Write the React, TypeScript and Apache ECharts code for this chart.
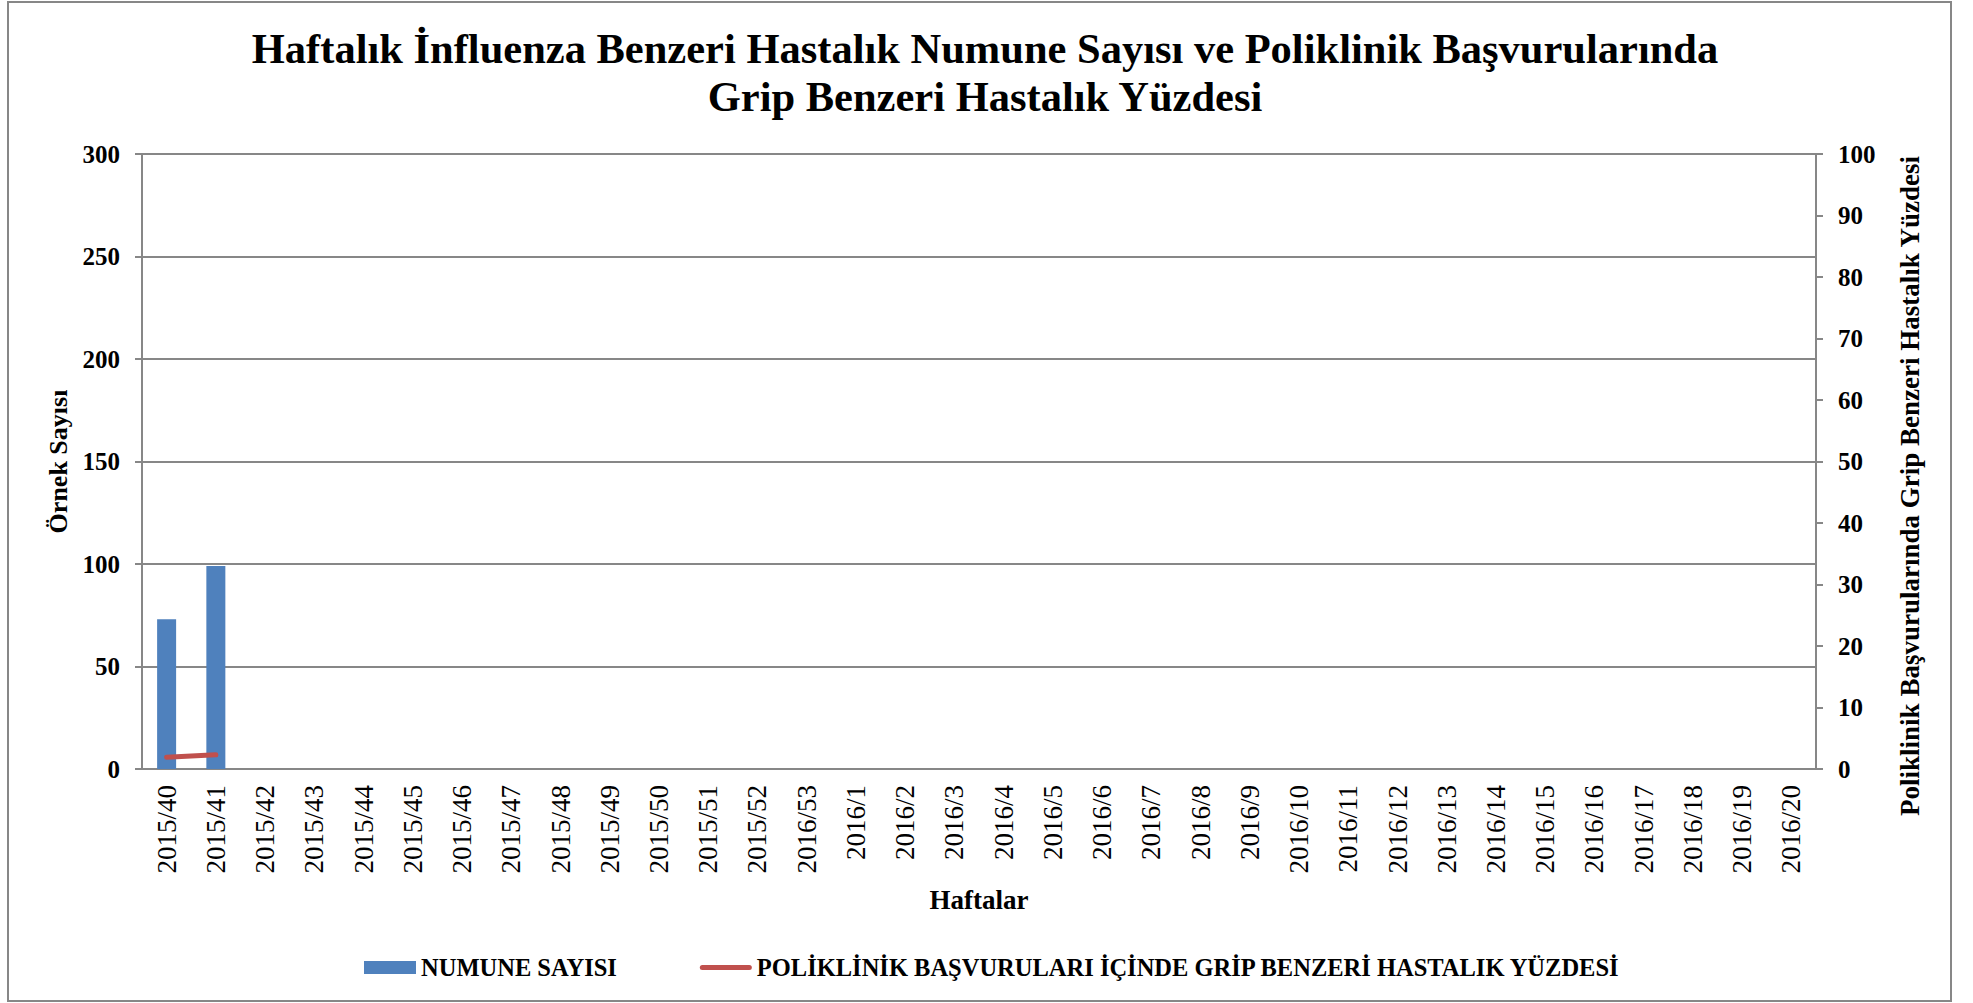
import React, { useEffect, useRef } from "react";
import * as echarts from "echarts";

const categories = [
  "2015/40", "2015/41", "2015/42", "2015/43", "2015/44", "2015/45", "2015/46", "2015/47",
  "2015/48", "2015/49", "2015/50", "2015/51", "2015/52", "2016/53", "2016/1", "2016/2",
  "2016/3", "2016/4", "2016/5", "2016/6", "2016/7", "2016/8", "2016/9", "2016/10",
  "2016/11", "2016/12", "2016/13", "2016/14", "2016/15", "2016/16", "2016/17", "2016/18",
  "2016/19", "2016/20",
];
const numuneSayisi: (number | null)[] = [73, 99];
const gripYuzdesi: (number | null)[] = [1.9, 2.3];

const titleLines = [
  "Haftalık İnfluenza Benzeri Hastalık Numune Sayısı ve Poliklinik Başvurularında",
  "Grip Benzeri Hastalık Yüzdesi",
];
const barName = "NUMUNE SAYISI";
const lineName = "POLİKLİNİK BAŞVURULARI İÇİNDE GRİP BENZERİ HASTALIK YÜZDESİ";
const leftAxisName = "Örnek Sayısı";
const rightAxisName = "Poliklinik Başvurularında Grip Benzeri Hastalık Yüzdesi";

const FONT = "'Liberation Serif', 'Times New Roman', serif";
const GRAY = "#878787";

export default function App() {
  const ref = useRef<HTMLDivElement>(null);
  useEffect(() => {
    document.body.style.margin = "0";
    const chart = echarts.init(ref.current!, null, { renderer: "svg" });
    const pad = (arr: (number | null)[]) =>
      categories.map((_, i) => (i < arr.length ? arr[i] : null));
    chart.setOption({
      animation: false,
      backgroundColor: "#ffffff",
      title: {
        text: titleLines.join("\n"),
        left: 980,
        textAlign: "center",
        top: 19,
        textStyle: {
          fontFamily: FONT,
          fontWeight: "bold",
          fontSize: 42.5,
          lineHeight: 48,
          color: "#000",
        },
      },
      graphic: [
        {
          type: "rect",
          shape: { x: 8, y: 2, width: 1943, height: 999 },
          style: { fill: "none", stroke: GRAY, lineWidth: 2 },
          silent: true,
        },
        {
          type: "text",
          x: 1910,
          y: 486,
          rotation: Math.PI / 2,
          style: {
            text: rightAxisName,
            align: "center",
            verticalAlign: "middle",
            fontFamily: FONT,
            fontWeight: "bold",
            fontSize: 27,
            fill: "#000",
          },
          silent: true,
        },
      ],
      grid: { left: 142, right: 157, top: 154, bottom: 234, containLabel: false },
      legend: {
        left: 359,
        top: 950,
        itemWidth: 52,
        itemHeight: 13,
        itemGap: 83,
        data: [
          { name: barName, icon: "rect" },
          {
            name: lineName,
            icon: "path://M2.5,0 H49.5 A2.5,2.5 0 0 1 49.5,5 H2.5 A2.5,2.5 0 0 1 2.5,0 Z",
            itemStyle: { color: "#C0504D" },
          },
        ],
        textStyle: {
          fontFamily: FONT,
          fontWeight: "bold",
          fontSize: 24.5,
          color: "#000",
        },
      },
      xAxis: {
        type: "category",
        data: categories,
        name: "Haftalar",
        nameLocation: "middle",
        nameGap: 117,
        nameTextStyle: { fontFamily: FONT, fontWeight: "bold", fontSize: 27, color: "#000" },
        axisLine: { lineStyle: { color: GRAY, width: 2 } },
        axisTick: { show: false },
        axisLabel: {
          interval: 0,
          rotate: 90,
          margin: 16,
          fontFamily: FONT,
          fontSize: 27,
          color: "#000",
        },
      },
      yAxis: [
        {
          type: "value",
          min: 0,
          max: 300,
          interval: 50,
          name: leftAxisName,
          nameLocation: "middle",
          nameRotate: 90,
          nameGap: 71,
          nameTextStyle: { fontFamily: FONT, fontWeight: "bold", fontSize: 26, color: "#000" },
          axisLine: { show: true, lineStyle: { color: GRAY, width: 2 } },
          axisTick: { show: true, length: 7, lineStyle: { color: GRAY, width: 2 } },
          axisLabel: {
            margin: 22,
            fontFamily: FONT,
            fontWeight: "bold",
            fontSize: 25,
            color: "#000",
          },
          splitLine: { show: true, lineStyle: { color: GRAY, width: 2 } },
        },
        {
          type: "value",
          min: 0,
          max: 100,
          interval: 10,
          position: "right",
          axisLine: { show: true, lineStyle: { color: GRAY, width: 2 } },
          axisTick: { show: true, length: 7, lineStyle: { color: GRAY, width: 2 } },
          axisLabel: {
            margin: 22,
            fontFamily: FONT,
            fontWeight: "bold",
            fontSize: 25,
            color: "#000",
          },
          splitLine: { show: false },
        },
      ],
      series: [
        {
          name: barName,
          type: "bar",
          yAxisIndex: 0,
          data: pad(numuneSayisi),
          barWidth: 19,
          itemStyle: { color: "#4F81BD" },
        },
        {
          name: lineName,
          type: "line",
          yAxisIndex: 1,
          data: pad(gripYuzdesi),
          symbol: "none",
          lineStyle: { color: "#C0504D", width: 5, cap: "round" },
          itemStyle: { color: "#C0504D" },
        },
      ],
    });
    return () => chart.dispose();
  }, []);
  return <div ref={ref} style={{ width: 1973, height: 1003 }} />;
}
